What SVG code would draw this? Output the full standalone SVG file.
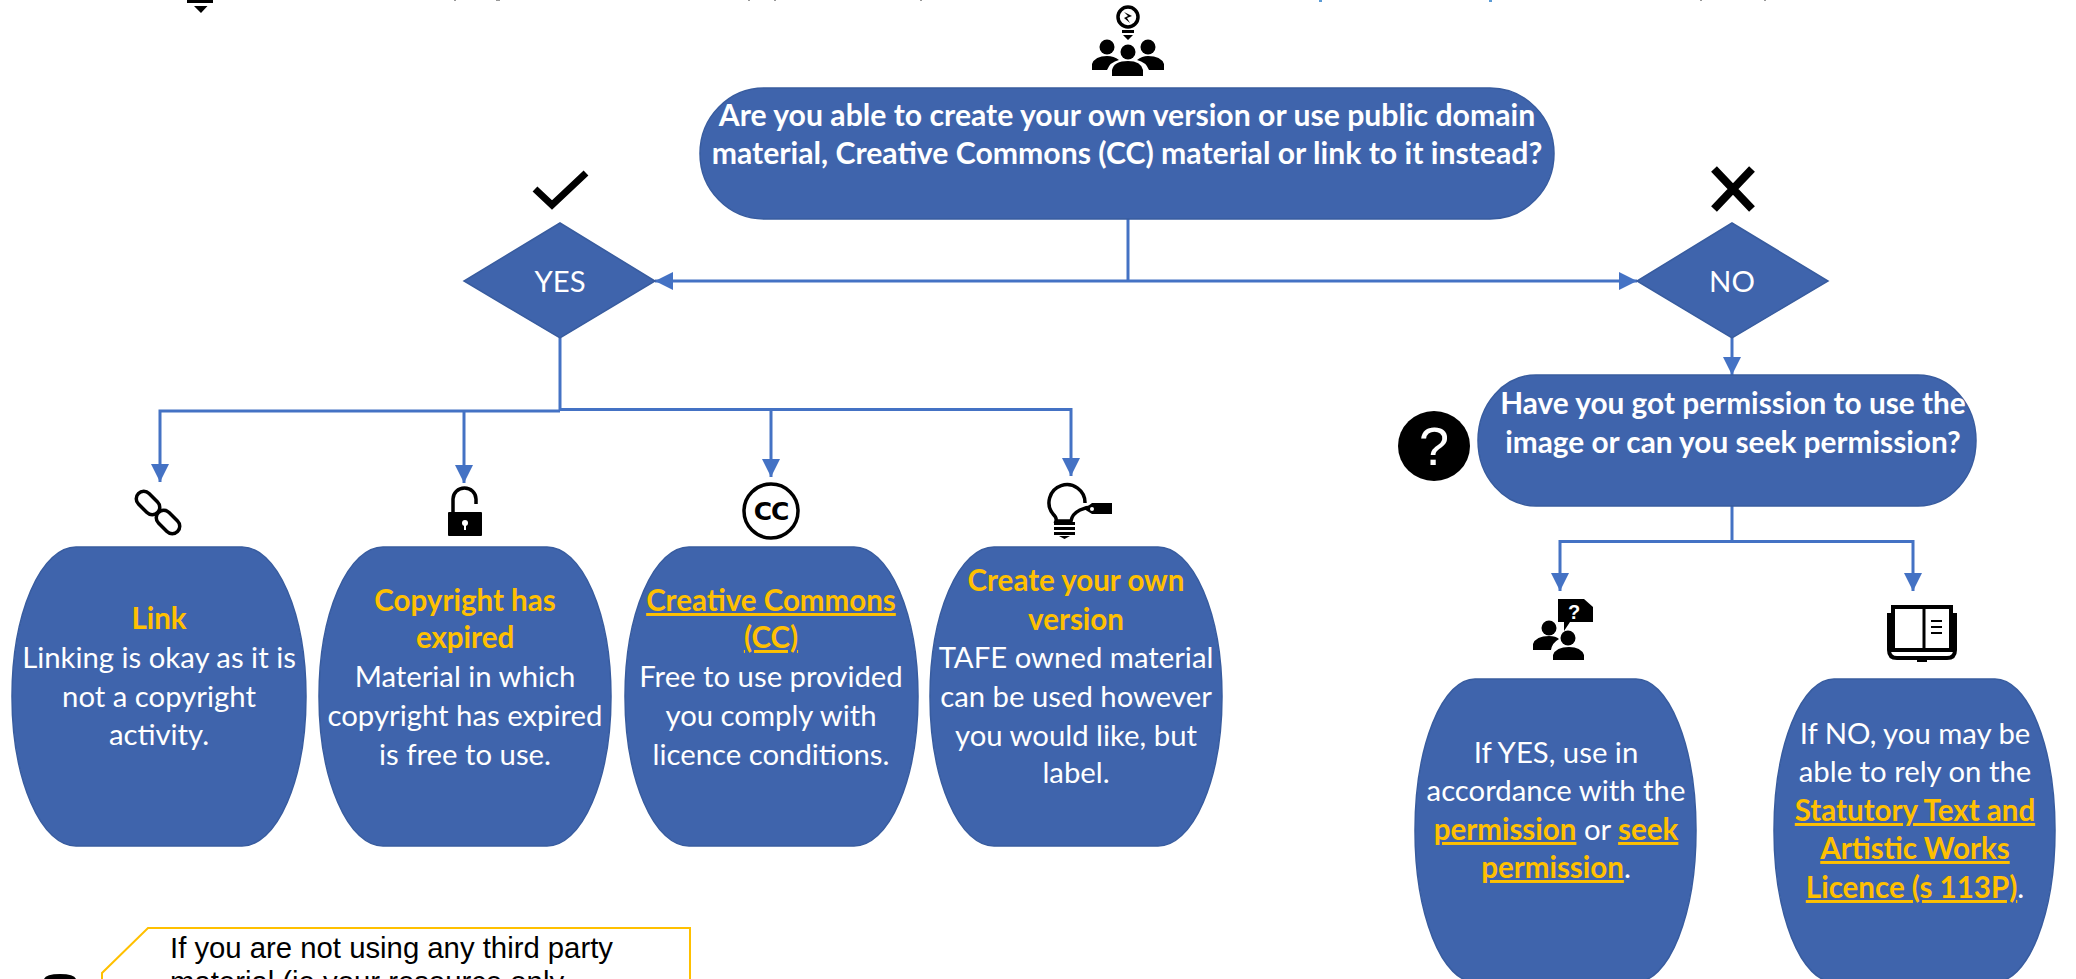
<svg xmlns="http://www.w3.org/2000/svg" width="2076" height="979" viewBox="0 0 2076 979">
<style>
.n{fill:#3F64AC;stroke:#385C9F;stroke-width:1.500}
text{font-family:"Lato","Carlito","Liberation Sans",sans-serif;font-size:29.300px;fill:#fff;text-anchor:middle}
.b{font-weight:700;font-size:29.800px}
.t{font-size:30.200px}
.g{fill:#FFC000;font-weight:700;font-size:29.500px}
.u{text-decoration:underline}
.c{fill:none;stroke:#4472C4;stroke-width:3}
.k{fill:#000;stroke:none}
.o{fill:none;stroke:#000;stroke-width:3.500}
.note{font-family:"Liberation Sans",Arial,sans-serif;font-size:29.300px;fill:#000;text-anchor:start}
</style>
<defs>
<marker id="a" markerUnits="userSpaceOnUse" markerWidth="20" markerHeight="20" refX="18" refY="9" orient="auto"><path d="M0,0L18,9L0,18Z" fill="#4472C4"/></marker>
</defs>
<g id="connectors">
<path class="c" d="M1128,219V281"/>
<path class="c" d="M1128,281H655" marker-end="url(#a)"/>
<path class="c" d="M1128,281H1637" marker-end="url(#a)"/>
<path class="c" d="M560,338V411"/>
<path class="c" d="M560,411H160V482" marker-end="url(#a)"/>
<path class="c" d="M464,411V483" marker-end="url(#a)"/>
<path class="c" d="M560,409.500H771V477" marker-end="url(#a)"/>
<path class="c" d="M771,409.500H1071V476" marker-end="url(#a)"/>
<path class="c" d="M1732,338V375" marker-end="url(#a)"/>
<path class="c" d="M1732,506V541.500"/>
<path class="c" d="M1732,541.500H1560V591" marker-end="url(#a)"/>
<path class="c" d="M1732,541.500H1913V591" marker-end="url(#a)"/>
</g>
<g id="node-question">
<rect class="n" x="700" y="88" width="854" height="131" rx="64" ry="65.500"/>
<text class="b t" x="1127" y="126">Are you able to create your own version or use public domain</text>
<text class="b t" x="1127" y="164">material, Creative Commons (CC) material or link to it instead?</text>
</g>
<g id="node-yes"><path class="n" d="M560,223L655,281L560,338L464,281Z"/><text x="560" y="292">YES</text></g>
<g id="node-no"><path class="n" d="M1732,223L1828,281L1732,338L1637,281Z"/><text x="1732" y="292">NO</text></g>
<g id="node-permission">
<rect class="n" x="1478" y="375" width="498" height="131" rx="58" ry="65.500"/>
<text class="b" x="1733" y="414">Have you got permission to use the</text>
<text class="b" x="1733" y="453">image or can you seek permission?</text>
</g>
<g id="node-link">
<rect class="n" x="12" y="547" width="294" height="299" rx="64" ry="149.500"/>
<text class="g" x="159" y="629">Link</text>
<text x="159" y="668">Linking is okay as it is</text>
<text x="159" y="707">not a copyright</text>
<text x="159" y="745">activity.</text>
</g>
<g id="node-expired">
<rect class="n" x="319" y="547" width="292" height="299" rx="64" ry="149.500"/>
<text class="g" x="465" y="611">Copyright has</text>
<text class="g" x="465" y="648">expired</text>
<text x="465" y="687">Material in which</text>
<text x="465" y="726">copyright has expired</text>
<text x="465" y="765">is free to use.</text>
</g>
<g id="node-cc">
<rect class="n" x="625" y="547" width="293" height="299" rx="64" ry="149.500"/>
<text class="g u" x="771" y="611">Creative Commons</text>
<text class="g u" x="771" y="648">(CC)</text>
<text x="771" y="687">Free to use provided</text>
<text x="771" y="726">you comply with</text>
<text x="771" y="765">licence conditions.</text>
</g>
<g id="node-own">
<rect class="n" x="930" y="547" width="292" height="299" rx="64" ry="149.500"/>
<text class="g" x="1076" y="591">Create your own</text>
<text class="g" x="1076" y="630">version</text>
<text x="1076" y="668">TAFE owned material</text>
<text x="1076" y="707">can be used however</text>
<text x="1076" y="746">you would like, but</text>
<text x="1076" y="783">label.</text>
</g>
<g id="node-if-yes">
<rect class="n" x="1415" y="679" width="281" height="303" rx="60" ry="151.500"/>
<text x="1556" y="763">If YES, use in</text>
<text x="1556" y="801">accordance with the</text>
<text x="1556" y="840"><tspan class="g u">permission</tspan> or <tspan class="g u">seek</tspan></text>
<text x="1556" y="878"><tspan class="g u">permission</tspan>.</text>
</g>
<g id="node-if-no">
<rect class="n" x="1774" y="679" width="281" height="303" rx="60" ry="151.500"/>
<text x="1915" y="744">If NO, you may be</text>
<text x="1915" y="782">able to rely on the</text>
<text class="g u" x="1915" y="821">Statutory Text and</text>
<text class="g u" x="1915" y="859">Artistic Works</text>
<text x="1915" y="898"><tspan class="g u">Licence (s 113P)</tspan>.</text>
</g>
<g id="node-note">
<path d="M102,990V973L148,928H690V990" fill="#fff" stroke="#FFC000" stroke-width="2"/>
<text class="note" x="170" y="958">If you are not using any third party</text>
<text class="note" x="170" y="992">material (ie your resource only</text>
</g>
<g id="icons">
<path d="M535,189L552,205L586,173" fill="none" stroke="#000" stroke-width="7"/>
<path d="M1714,169L1752,209M1752,169L1714,209" fill="none" stroke="#000" stroke-width="8"/>
<g id="icon-team">
<circle cx="1128" cy="17" r="10" fill="#fff" stroke="#000" stroke-width="3.500"/>
<path class="k" d="M1122,30H1134V33H1122ZM1123,35H1133L1128,40Z"/>
<path class="k" d="M1124,12L1132,16L1127,18L1130,23L1124,18L1128,16Z"/>
<circle class="k" cx="1107" cy="47" r="7.500"/><circle class="k" cx="1148" cy="47" r="7.500"/><circle class="k" cx="1128" cy="52" r="7.500"/>
<path class="k" d="M1092,70V64Q1095,56 1107,56Q1114,56 1119,60Q1110,62 1107,70Z"/>
<path class="k" d="M1164,70V64Q1161,56 1148,56Q1142,56 1137,60Q1146,62 1149,70Z"/>
<path class="k" d="M1112,76V70Q1114,61 1128,61Q1141,61 1143,70V76Z"/>
</g>
<g id="icon-link" class="o">
<rect x="-13.500" y="-7.500" width="27" height="15" rx="7.500" transform="translate(148,503) rotate(45)"/>
<rect x="-13.500" y="-7.500" width="27" height="15" rx="7.500" transform="translate(168,522) rotate(45)"/>
</g>
<g id="icon-lock">
<path class="o" d="M453,513V499A11.500,11 0 0 1 476,499V504"/>
<rect class="k" x="448" y="512" width="34" height="24" rx="1"/>
<circle cx="465" cy="523" r="3" fill="#fff"/><path d="M464,524H466V530H464Z" fill="#fff"/>
</g>
<g id="icon-cc">
<circle cx="771" cy="511" r="27" fill="#fff" stroke="#000" stroke-width="3.500"/>
<text x="771" y="520" style="font-family:'DejaVu Sans',sans-serif;font-size:25px;font-weight:700;fill:#000;letter-spacing:-1px">CC</text>
</g>
<g id="icon-bulb">
<path class="o" d="M1085,503A18,18 0 1 0 1053,514Q1057,518 1056,521H1071Q1072,514 1080,510Q1086,507 1093,507"/>
<path class="k" d="M1054,522H1075V525H1054ZM1054,527H1075V530H1054ZM1054,532H1075V535H1054ZM1059,536H1070L1064.500,539Z"/>
<path class="k" d="M1092,503H1112V514H1092L1084,509Z"/>
<circle cx="1092" cy="509" r="2" fill="#fff"/>
</g>
<g id="icon-help">
<ellipse class="k" cx="1434" cy="446" rx="36" ry="35"/>
<text x="1434" y="465" style="font-family:'Liberation Sans',sans-serif;font-size:54px">?</text>
</g>
<g id="icon-ask">
<path class="k" d="M1558,599H1584L1593,607V622H1570L1564,631L1564,622H1558Z"/>
<text x="1574" y="619" style="font-family:'Liberation Sans',sans-serif;font-size:20px;font-weight:700">?</text>
<circle class="k" cx="1549" cy="628" r="7.500"/><circle class="k" cx="1568" cy="638" r="7.500"/>
<path class="k" d="M1533,650V644Q1536,636 1549,636Q1556,636 1559,639Q1552,643 1551,650Z"/>
<path class="k" d="M1553,660V655Q1556,647 1569,647Q1581,647 1584,655V660Z"/>
</g>
<g id="icon-book">
<path d="M1893,607H1951V650H1893Z" fill="#fff" stroke="#000" stroke-width="4"/>
<path d="M1924,607V650" stroke="#000" stroke-width="3" fill="none"/>
<path d="M1889,613V650Q1889,658 1897,658H1947Q1955,658 1955,650V613" fill="none" stroke="#000" stroke-width="4"/>
<path class="k" d="M1931,620H1942V622H1931ZM1931,626H1942V628H1931ZM1931,632H1942V634H1931Z"/>
<path class="k" d="M1917,658H1927V662H1917Z"/>
</g>
<g id="icon-fragments">
<path class="k" d="M187,0H213V3H187ZM194,6H207.500L201,13Z"/>
<path class="k" d="M44,979Q46,974 60,974Q74,974 76,979Z"/>
<path d="M454,0h2v1h-2ZM496,0h4v1h-4ZM748,0h2v1h-2ZM774,0h2v1h-2ZM920,0h2v1h-2ZM1700,0h2v1h-2ZM1764,0h2v1h-2Z" fill="#999"/>
<path d="M1319,0h3v2h-3ZM1489,0h3v2h-3Z" fill="#5B9BD5"/>
</g>
</g>
</svg>
